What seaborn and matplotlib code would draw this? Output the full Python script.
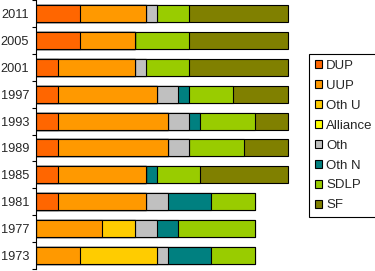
import pandas as pd
import matplotlib.pyplot as plt
import seaborn as sns
from matplotlib.patches import Patch

# Seats per election year (top to bottom as drawn)
years = ["2011", "2005", "2001", "1997", "1993", "1989", "1985", "1981", "1977", "1973"]
parties = ["DUP", "UUP", "Oth U", "Alliance", "Oth", "Oth N", "SDLP", "SF"]
colors = ["#FF6600", "#FF9900", "#FFCC00", "#FFFF00", "#C0C0C0", "#008080", "#99CC00", "#808000"]

dup = [4, 4, 2, 2, 2, 2, 2, 2, 0, 0]
uup = [6, 5, 7, 9, 10, 10, 8, 8, 6, 4]
oth_u = [0, 0, 0, 0, 0, 0, 0, 0, 3, 7]
alliance = [0, 0, 0, 0, 0, 0, 0, 0, 0, 0]
oth = [1, 0, 1, 2, 2, 2, 0, 2, 2, 1]
oth_n = [0, 0, 0, 1, 1, 0, 1, 4, 2, 4]
sdlp = [3, 5, 4, 4, 5, 5, 4, 4, 7, 4]
sf = [9, 9, 9, 5, 3, 4, 8, 0, 0, 0]

df = pd.DataFrame({"year": years, "DUP": dup, "UUP": uup, "Oth U": oth_u,
                   "Alliance": alliance, "Oth": oth, "Oth N": oth_n,
                   "SDLP": sdlp, "SF": sf})
cum = df[parties].cumsum(axis=1)
cum["year"] = years

sns.set_style("white")
plt.rcParams["font.family"] = ["Liberation Sans", "DejaVu Sans"]

fig = plt.figure(figsize=(3.75, 2.71), dpi=100)
ax = fig.add_axes([36 / 375, 2 / 271, 274 / 375, 269 / 271])

# draw cumulative bars from the longest down so each segment shows
for party, col in reversed(list(zip(parties, colors))):
    sns.barplot(data=cum, x=party, y="year", order=years, orient="h",
                color=col, saturation=1, width=0.63, edgecolor="black",
                linewidth=0.8, errorbar=None, ax=ax)

ax.set_xlim(0, 25)
ax.set_ylim(9.5, -0.5)
ax.set_xlabel("")
ax.set_ylabel("")
ax.set_xticks([])
for s in ["top", "right", "bottom"]:
    ax.spines[s].set_visible(False)
ax.spines["left"].set_linewidth(0.8)
ax.spines["left"].set_color("black")

ax.set_yticks([i - 0.5 for i in range(11)])
ax.set_yticklabels([])
ax.set_yticks(range(10), minor=True)
ax.set_yticklabels(years, minor=True, fontsize=9.2)
ax.tick_params(axis="y", which="major", left=True, length=3, width=0.8, color="black")
ax.tick_params(axis="y", which="minor", left=True, length=0, pad=5)

handles = [Patch(facecolor=c, edgecolor="black", linewidth=0.8) for c in colors]
leg = fig.legend(handles, parties, loc="upper left",
                 bbox_to_anchor=(309 / 375, 1 - 54 / 271), borderaxespad=0,
                 fontsize=9.5, frameon=True, fancybox=False, framealpha=1,
                 edgecolor="black", handlelength=0.55, handleheight=0.55,
                 handletextpad=0.3, labelspacing=0.6, borderpad=0.45)
leg.get_frame().set_linewidth(0.8)

fig.savefig("out.png", dpi=100)
